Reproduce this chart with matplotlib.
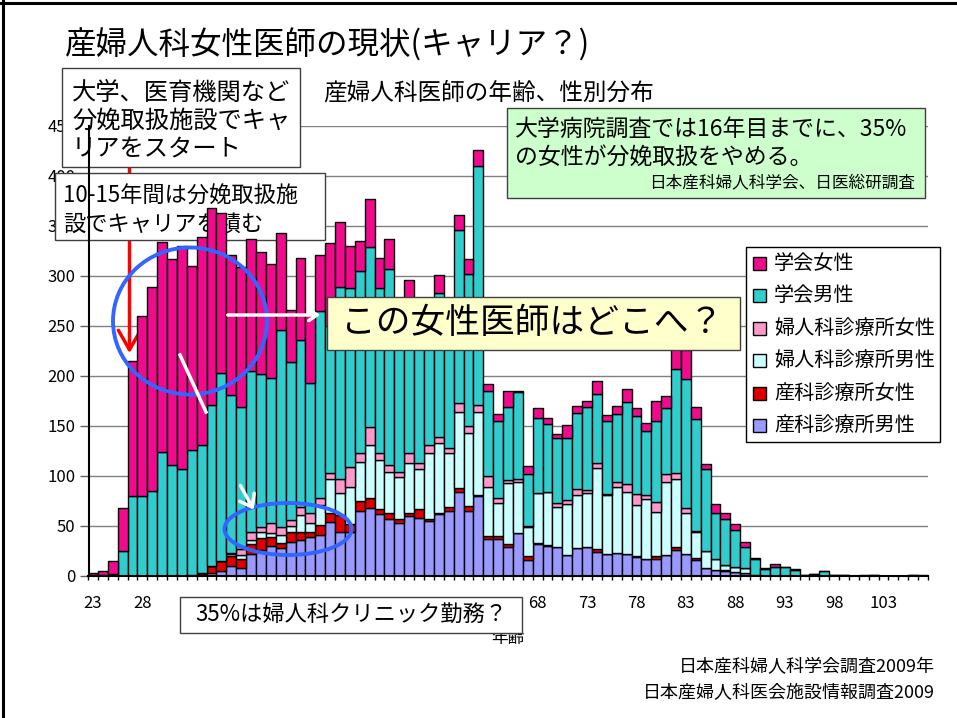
import numpy as np
import matplotlib
matplotlib.use('Agg')
import matplotlib.pyplot as plt
from matplotlib.patches import Rectangle, Ellipse, FancyArrowPatch
from matplotlib.lines import Line2D

plt.rcParams['font.family'] = ['Noto Sans CJK JP', 'DejaVu Sans']

# ---------------- data ----------------
ages = list(range(23, 108))
age_ticks = list(range(23, 108, 5))
# labels 33..63 lie under the "35%..." box in the reference and are not visible
age_tick_labels = ['23', '28', '', '', '', '', '', '', '', '68', '73', '78', '83', '88', '93', '98', '103']
y_ticks = list(range(0, 451, 50))

obst_clinic_male = [0, 0, 0, 0, 0, 0, 0, 0, 0, 0, 0, 1, 3, 5, 10, 8, 22, 26, 30, 28,
                    34, 36, 39, 41, 54, 44, 44, 65, 68, 62, 57, 53, 60, 58, 55, 62, 65, 84, 65, 80,
                    37, 37, 29, 43, 16, 32, 30, 29, 21, 28, 29, 24, 22, 23, 22, 19, 17, 17, 21, 26,
                    22, 16, 8, 6, 5, 4, 3, 0, 0, 0, 0, 0, 0, 0, 0, 0, 0, 0, 0, 0,
                    0, 0, 0, 0, 0]
obst_clinic_female = [0, 0, 0, 0, 0, 0, 0, 0, 0, 0, 1, 2, 7, 10, 10, 9, 10, 12, 9, 5,
                      10, 8, 5, 10, 9, 17, 8, 10, 10, 5, 6, 4, 3, 9, 2, 1, 4, 4, 5, 1,
                      3, 3, 3, 0, 4, 1, 1, 0, 0, 0, 0, 3, 0, 0, 0, 1, 0, 3, 0, 3,
                      0, 2, 0, 0, 1, 0, 0, 1, 0, 0, 0, 0, 0, 0, 0, 0, 0, 0, 0, 0,
                      0, 0, 0, 0, 0]
gyn_clinic_male = [0, 0, 0, 0, 0, 0, 0, 0, 0, 0, 0, 0, 0, 0, 2, 4, 4, 6, 4, 8,
                   6, 17, 9, 20, 34, 22, 37, 39, 53, 49, 41, 42, 50, 40, 66, 70, 54, 76, 73, 83,
                   49, 33, 61, 51, 29, 50, 53, 40, 51, 53, 54, 81, 59, 66, 62, 51, 60, 44, 73, 68,
                   41, 26, 17, 11, 5, 5, 5, 0, 0, 0, 0, 0, 0, 0, 0, 0, 0, 0, 0, 0,
                   0, 0, 0, 0, 0]
gyn_clinic_female = [0, 0, 0, 0, 0, 0, 0, 0, 0, 0, 0, 0, 0, 0, 1, 6, 8, 5, 10, 8,
                     6, 8, 10, 7, 6, 14, 20, 9, 18, 7, 7, 5, 10, 6, 8, 6, 5, 9, 7, 7,
                     11, 5, 3, 3, 1, 0, 0, 4, 4, 6, 3, 5, 1, 5, 8, 11, 4, 10, 8, 6,
                     5, 1, 0, 0, 0, 0, 0, 0, 0, 0, 0, 0, 0, 0, 0, 0, 0, 0, 0, 0,
                     0, 0, 0, 0, 0]
society_male = [1, 1, 2, 25, 80, 80, 85, 124, 111, 107, 125, 128, 161, 188, 158, 142, 161, 153, 145, 197,
                158, 167, 130, 187, 147, 192, 179, 182, 180, 165, 196, 158, 152, 142, 131, 144, 130, 173, 152, 239,
                85, 77, 73, 87, 52, 75, 68, 65, 62, 76, 83, 69, 73, 68, 82, 78, 64, 81, 66, 104,
                129, 112, 82, 46, 46, 37, 21, 16, 7, 9, 9, 6, 1, 2, 5, 1, 1, 0, 0, 1,
                0, 0, 0, 1, 0]
society_female = [2, 4, 13, 43, 135, 180, 204, 210, 206, 223, 184, 208, 197, 160, 140, 140, 132, 122, 114, 97,
                  52, 82, 69, 56, 83, 65, 42, 30, 48, 30, 30, 8, 21, 10, 10, 18, 10, 15, 15, 16,
                  7, 7, 16, 1, 8, 10, 6, 4, 13, 7, 6, 13, 6, 8, 13, 8, 8, 20, 12, 21,
                  29, 12, 5, 9, 6, 6, 5, 1, 1, 3, 0, 1, 0, 0, 0, 0, 0, 0, 1, 0,
                  0, 0, 0, 0, 1]

series_labels = ['産科診療所男性', '産科診療所女性', '婦人科診療所男性',
                 '婦人科診療所女性', '学会男性', '学会女性']
series_values = [obst_clinic_male, obst_clinic_female, gyn_clinic_male,
                 gyn_clinic_female, society_male, society_female]
series_colors = ['#9999FF', '#DD0000', '#CCFFFF', '#FF99CC', '#33CCCC', '#EE0C8C']

# ---------------- figure ----------------
W, H = 957, 718
fig = plt.figure(figsize=(W / 100, H / 100), dpi=100)
fig.patch.set_facecolor('white')


def fx(x):
    return x / W


def fy(y):
    return 1 - y / H


ax = fig.add_axes([fx(88), fy(576), (928 - 88) / W, (576 - 126) / H])
ax.patch.set_visible(False)
ax.set_axisbelow(True)

bottom = np.zeros(len(ages))
for vals, col in zip(series_values, series_colors):
    v = np.array(vals, dtype=float)
    ax.bar(ages, v, bottom=bottom, width=1.0, color=col, edgecolor='black',
           linewidth=1.0, zorder=2)
    bottom += v

ax.set_xlim(22.5, 107.5)
ax.set_ylim(0, 450)
ax.set_yticks(y_ticks)
ax.set_yticklabels([str(t) for t in y_ticks], fontsize=12)
ax.yaxis.grid(True, color='#808080', linewidth=1.0)
ax.tick_params(axis='y', direction='out', length=6, width=1, color='#606060', pad=3)

ax.set_xticks(age_ticks)
ax.set_xticklabels(age_tick_labels, fontsize=12)
ax.set_xticks(np.arange(22.5, 108, 1.0), minor=True)
ax.tick_params(axis='x', which='major', length=0, pad=14)
ax.tick_params(axis='x', which='minor', direction='out', length=3, width=1, color='black')

for s in ['top', 'right', 'left']:
    ax.spines[s].set_visible(False)
ax.spines['bottom'].set_linewidth(1.5)

# y-axis line drawn on top of the boxes
fig.add_artist(Line2D([fx(88.5), fx(88.5)], [fy(126), fy(576)], color='black', lw=1.5, zorder=10))

# slide border
fig.add_artist(Line2D([fx(2.5), fx(2.5)], [fy(0), fy(718)], color='black', lw=2.2, zorder=10))
fig.add_artist(Line2D([fx(0), fx(957)], [fy(2.5), fy(2.5)], color='black', lw=2.2, zorder=10))

# title and subtitle
fig.text(fx(65), fy(45), '産婦人科女性医師の現状(キャリア？)', fontsize=22.7, va='center', ha='left')
fig.text(fx(323), fy(93), '産婦人科医師の年齢、性別分布', fontsize=17, va='center', ha='left')

# red arrow (under the second box)
red = FancyArrowPatch((fx(129.5), fy(165)), (fx(129.5), fy(356)), transform=fig.transFigure,
                      arrowstyle='->,head_length=7,head_width=4', color='#FF0000', lw=2.5,
                      mutation_scale=2, zorder=1.4)
ax.add_artist(red)
red.set_clip_on(False)

# box 2 (behind bars)
b2 = Rectangle((fx(55), fy(240)), (325 - 55) / W, (240 - 173) / H, transform=fig.transFigure,
               facecolor='white', edgecolor='#404040', lw=1, zorder=1.5)
ax.add_patch(b2)
b2.set_clip_on(False)
for txt, yy in [('10-15年間は分娩取扱施', 196), ('設でキャリアを積む', 224)]:
    t = ax.text(fx(63), fy(yy), txt, transform=fig.transFigure, fontsize=16,
                va='center', ha='left', zorder=1.6)
    t.set_clip_on(False)

# box 1
fig.add_artist(Rectangle((fx(62), fy(167)), (300 - 62) / W, (167 - 68) / H, transform=fig.transFigure,
                         facecolor='white', edgecolor='#404040', lw=1, zorder=5))
for txt, yy in [('大学、医育機関など', 93), ('分娩取扱施設でキャ', 121), ('リアをスタート', 149)]:
    fig.text(fx(72), fy(yy), txt, fontsize=17.5, va='center', ha='left', zorder=6)

# green box
fig.add_artist(Rectangle((fx(507), fy(198)), (925 - 507) / W, (198 - 108) / H, transform=fig.transFigure,
                         facecolor='#CCFFCC', edgecolor='#404040', lw=1, zorder=5))
fig.text(fx(515), fy(129), '大学病院調査では16年目までに、35%', fontsize=16.5, va='center', ha='left', zorder=6)
fig.text(fx(515), fy(157), 'の女性が分娩取扱をやめる。', fontsize=16.5, va='center', ha='left', zorder=6)
fig.text(fx(915), fy(184), '日本産科婦人科学会、日医総研調査', fontsize=12, va='center', ha='right', zorder=6)

# yellow box
fig.add_artist(Rectangle((fx(327), fy(350)), (740 - 327) / W, (350 - 297) / H, transform=fig.transFigure,
                         facecolor='#FFFFCC', edgecolor='#404040', lw=1, zorder=5))
fig.text(fx(532), fy(323), 'この女性医師はどこへ？', fontsize=25, va='center', ha='center', zorder=6)

# legend (manual)
fig.add_artist(Rectangle((fx(746), fy(442)), (940 - 746) / W, (442 - 247) / H, transform=fig.transFigure,
                         facecolor='white', edgecolor='black', lw=1, zorder=5))
leg_y = [263, 295.5, 328, 360.5, 393, 425.5]
for lab, col, yy in zip(series_labels[::-1], series_colors[::-1], leg_y):
    fig.add_artist(Rectangle((fx(752.5), fy(yy + 6.5)), 13 / W, 13 / H, transform=fig.transFigure,
                             facecolor=col, edgecolor='black', lw=1, zorder=6))
    fig.text(fx(774), fy(yy), lab, fontsize=14.5, va='center', ha='left', zorder=6)

# circles
fig.add_artist(Ellipse((fx(190), fy(321)), 154 / W, 147 / H, transform=fig.transFigure,
                       fill=False, edgecolor='#3366FF', lw=2.8, zorder=7))
fig.add_artist(Ellipse((fx(288), fy(529)), 127 / W, 52 / H, transform=fig.transFigure,
                       fill=False, edgecolor='#3366FF', lw=2.8, zorder=7))

# white arrows
fig.add_artist(FancyArrowPatch((fx(225), fy(315)), (fx(323), fy(315)), transform=fig.transFigure,
                               arrowstyle='->,head_length=3,head_width=2', color='white', lw=2.5,
                               mutation_scale=2, zorder=7))
fig.add_artist(Line2D([fx(180), fx(206)], [fy(355), fy(412)], color='white', lw=2.5, zorder=7))
fig.add_artist(FancyArrowPatch((fx(239), fy(483)), (fx(255), fy(512)), transform=fig.transFigure,
                               arrowstyle='->,head_length=4,head_width=3', color='white', lw=2.5,
                               mutation_scale=2, zorder=7))

# x label (partly hidden under the box, as in the reference)
fig.text(fx(508), fy(639), '年齢', fontsize=12, va='center', ha='center', zorder=4)

# bottom box
fig.add_artist(Rectangle((fx(180), fy(633)), (522 - 180) / W, (633 - 597) / H, transform=fig.transFigure,
                         facecolor='white', edgecolor='#404040', lw=1, zorder=5))
fig.text(fx(351), fy(614), '35%は婦人科クリニック勤務？', fontsize=16, va='center', ha='center', zorder=6)

# sources
fig.text(fx(935), fy(667), '日本産科婦人科学会調査2009年', fontsize=13, va='center', ha='right')
fig.text(fx(935), fy(692), '日本産婦人科医会施設情報調査2009', fontsize=13, va='center', ha='right')

fig.savefig('out.png', dpi=100)
